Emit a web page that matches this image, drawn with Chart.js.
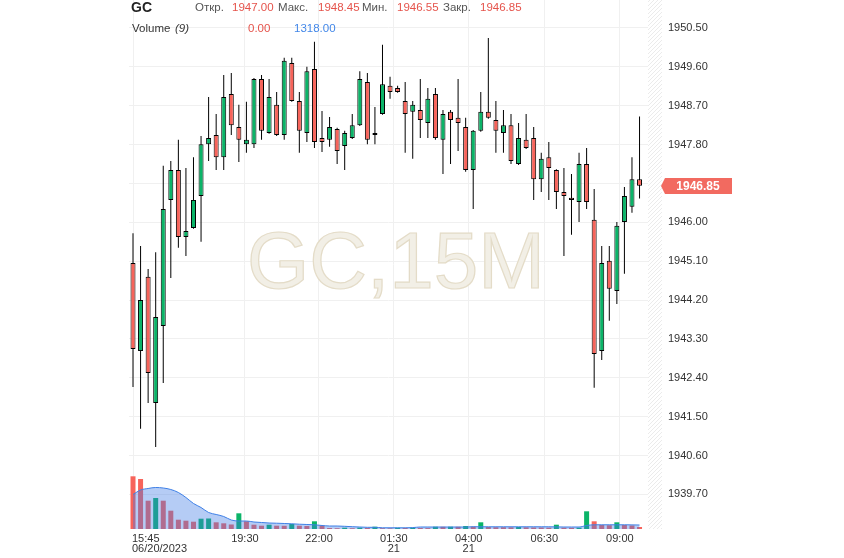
<!DOCTYPE html>
<html>
<head>
<meta charset="utf-8">
<script src="https://cdn.jsdelivr.net/npm/chart.js"></script>
<style>
html, body { margin: 0; padding: 0; background: #fff; }
canvas { display: block; }
</style>
</head>
<body>
<canvas id="gcChart" width="844" height="558"></canvas>
<script>
// GC, 15M - свечи
const opens = [
    1945.06, 1943.02, 1944.74, 1941.82, 1943.60, 1946.52, 1947.21, 1945.66, 1945.87, 1946.61,
    1947.81, 1948.02, 1947.51, 1948.97, 1948.21, 1947.81, 1947.81, 1949.32, 1948.07, 1948.72,
    1948.02, 1949.69, 1948.81, 1948.07, 1949.55, 1947.95, 1947.91, 1948.16, 1947.77, 1947.95,
    1948.25, 1949.25, 1948.02, 1948.51, 1949.16, 1949.11, 1948.81, 1948.56, 1948.60, 1948.30,
    1948.97, 1947.91, 1948.56, 1948.42, 1948.21, 1947.21, 1948.12, 1948.56, 1948.37, 1948.07,
    1948.25, 1947.35, 1947.91, 1947.95, 1947.00, 1947.51, 1947.21, 1946.70, 1946.57, 1946.47,
    1947.35, 1946.06, 1943.02, 1945.11, 1944.41, 1946.01, 1946.36, 1947.00
];
const highs = [
    1945.75, 1945.45, 1944.92, 1945.31, 1947.31, 1947.42, 1947.91, 1947.26, 1947.51, 1948.00,
    1948.90, 1948.51, 1949.41, 1949.46, 1948.72, 1948.79, 1949.34, 1949.41, 1949.32, 1949.02,
    1949.81, 1949.81, 1949.02, 1949.60, 1950.18, 1948.58, 1948.44, 1948.19, 1948.12, 1948.51,
    1949.50, 1949.46, 1948.67, 1950.11, 1949.37, 1949.16, 1949.25, 1948.81, 1949.32, 1949.11,
    1949.11, 1948.60, 1948.60, 1949.32, 1948.42, 1948.14, 1949.02, 1950.27, 1948.81, 1948.60,
    1948.51, 1948.30, 1948.51, 1948.21, 1947.61, 1947.86, 1947.23, 1947.26, 1947.12, 1947.61,
    1947.72, 1946.77, 1945.45, 1945.45, 1946.01, 1946.82, 1947.51, 1948.45
];
const lows = [
    1942.19, 1941.22, 1941.82, 1940.80, 1942.28, 1944.71, 1945.41, 1945.22, 1945.85, 1945.55,
    1947.42, 1947.21, 1947.21, 1948.02, 1947.40, 1947.61, 1947.72, 1947.91, 1948.05, 1948.00,
    1947.91, 1948.79, 1947.61, 1947.86, 1947.72, 1947.63, 1947.75, 1947.35, 1947.21, 1947.93,
    1948.23, 1947.81, 1947.81, 1948.49, 1948.86, 1949.00, 1947.61, 1947.47, 1947.95, 1947.95,
    1947.91, 1947.12, 1947.35, 1947.65, 1947.17, 1946.31, 1948.10, 1948.40, 1947.61, 1947.61,
    1947.35, 1947.33, 1947.70, 1946.52, 1946.70, 1946.52, 1946.31, 1945.22, 1945.71, 1946.01,
    1946.31, 1942.17, 1942.81, 1943.72, 1944.11, 1944.81, 1946.22, 1946.55
];
const closes = [
    1943.07, 1944.20, 1942.51, 1943.81, 1946.31, 1947.21, 1945.66, 1945.80, 1946.52, 1947.81,
    1947.95, 1947.51, 1948.90, 1948.25, 1947.91, 1947.91, 1949.32, 1948.12, 1948.90, 1948.02,
    1949.74, 1948.81, 1948.12, 1949.50, 1947.86, 1947.86, 1948.21, 1947.65, 1948.07, 1948.25,
    1949.32, 1947.91, 1948.07, 1949.20, 1949.02, 1949.02, 1948.51, 1948.72, 1948.37, 1948.86,
    1947.95, 1948.51, 1948.37, 1948.30, 1947.21, 1948.12, 1948.56, 1948.42, 1948.12, 1948.25,
    1947.42, 1947.95, 1947.72, 1947.00, 1947.47, 1947.26, 1946.70, 1946.61, 1946.52, 1947.35,
    1946.47, 1942.95, 1945.06, 1944.46, 1945.92, 1946.61, 1947.00, 1946.85
];

// Объём и его скользящая средняя (9)
const volumes = [
    17390, 16500, 9340, 10230, 9340, 6040, 3070, 2740, 2410, 3400,
    3470, 2210, 1880, 1490, 5180, 2540, 1420, 1090, 1420, 1090,
    1060, 1650, 1090, 990, 2540, 1090, 330, 260, 430, 260,
    460, 330, 760, 260, 230, 400, 330, 430, 330, 300,
    760, 730, 760, 730, 990, 760, 2210, 660, 590, 590,
    560, 660, 560, 500, 500, 430, 1420, 430, 400, 430,
    5840, 2540, 1320, 1250, 2210, 1320, 1160, 660
];
const volumeMA = [
    11380, 12870, 13370, 13700, 13530, 13040, 12050, 10400, 8420, 7100,
    5450, 4790, 4130, 2970, 2640, 2640, 2310, 2150, 1980, 1910,
    1820, 1720, 1580, 1490, 1390, 1160, 990, 990, 890, 760,
    660, 560, 560, 400, 400, 400, 400, 460, 660, 660,
    660, 660, 660, 660, 660, 760, 730, 730, 730, 730,
    730, 730, 730, 730, 730, 730, 700, 660, 660, 660,
    1160, 1390, 1390, 1390, 1390, 1390, 1360, 1318
];

// Подписи осей
const timeLabels = ['15:45', '19:30', '22:00', '01:30', '04:00', '06:30', '09:00'];
const dateLabels = ['06/20/2023', '', '', '21', '21', '', ''];
const timeTickPos = [0, 14.8, 24.6, 34.5, 44.4, 54.4, 64.4];
const priceTicks = [1939.70, 1940.60, 1941.50, 1942.40, 1943.30, 1944.20, 1945.10,
    1946.00, 1946.90, 1947.80, 1948.70, 1949.60, 1950.50];

const UP = '#0bb468';
const DOWN = '#f7645b';
const FONT = '"Liberation Sans", Arial, sans-serif';

const idx = opens.map((_, i) => i);
const bodyData = idx.map(i => ({ x: i, y: [opens[i], closes[i]] }));
const wickData = idx.map(i => ({ x: i, y: [lows[i], highs[i]] }));
const bodyColors = idx.map(i => closes[i] >= opens[i] ? UP : DOWN);
const volData = idx.map(i => ({ x: i, y: volumes[i] }));
const volColors = idx.map(i => (i > 0 && volumes[i] > volumes[i - 1]) ? UP : DOWN);
const maData = idx.map(i => ({ x: i, y: volumeMA[i] }));

// Надписи, водяной знак, ярлык цены
const overlay = {
    id: 'overlay',
    beforeDatasetsDraw(chart) {
        const ctx = chart.ctx;
        ctx.save();
        ctx.font = '80px ' + FONT;
        ctx.textAlign = 'center';
        ctx.textBaseline = 'alphabetic';
        ctx.fillStyle = '#f2efe6';
        ctx.strokeStyle = '#e4dcc8';
        ctx.lineWidth = 1.2;
        ctx.fillText('GC,15M', 396, 288);
        ctx.strokeText('GC,15M', 396, 288);
        ctx.restore();
    },
    afterDraw(chart) {
        const ctx = chart.ctx;
        const area = chart.chartArea;
        const xs = chart.scales.x;
        const ys = chart.scales.y;
        ctx.save();

        // штриховка у правого края
        ctx.beginPath();
        ctx.rect(area.right, 0, 14, area.bottom);
        ctx.clip();
        ctx.strokeStyle = '#ebebeb';
        ctx.lineWidth = 1;
        ctx.beginPath();
        for (let k = -20; k < area.bottom + 20; k += 4) {
            ctx.moveTo(area.right, k + 14);
            ctx.lineTo(area.right + 14, k);
        }
        ctx.stroke();
        ctx.restore();
        ctx.save();

        // подписи времени
        ctx.fillStyle = '#333';
        ctx.font = '11px ' + FONT;
        ctx.textBaseline = 'middle';
        timeTickPos.forEach((p, i) => {
            const px = xs.getPixelForValue(p);
            ctx.textAlign = i === 0 ? 'left' : 'center';
            const x0 = i === 0 ? px - 1 : px;
            ctx.fillText(timeLabels[i], x0, 539);
            if (dateLabels[i]) ctx.fillText(dateLabels[i], x0, 549);
        });

        // шапка
        ctx.textAlign = 'left';
        ctx.font = 'bold 14px ' + FONT;
        ctx.fillStyle = '#222';
        ctx.fillText('GC', 131, 8);
        ctx.font = '11.5px ' + FONT;
        const row = [
            ['Откр.', 195, '#555'], ['1947.00', 232, '#e5534b'],
            ['Макс.', 278, '#555'], ['1948.45', 318, '#e5534b'],
            ['Мин.', 362, '#555'], ['1946.55', 397, '#e5534b'],
            ['Закр.', 443, '#555'], ['1946.85', 480, '#e5534b']
        ];
        row.forEach(([t, x, c]) => { ctx.fillStyle = c; ctx.fillText(t, x, 8); });
        ctx.fillStyle = '#333';
        ctx.fillText('Volume', 132, 29);
        ctx.font = 'italic 11.5px ' + FONT;
        ctx.fillText('(9)', 175, 29);
        ctx.font = '11.5px ' + FONT;
        ctx.fillStyle = '#e5534b';
        ctx.fillText('0.00', 248, 29);
        ctx.fillStyle = '#4287e8';
        ctx.fillText('1318.00', 294, 29);

        // ярлык последней цены
        const last = closes[closes.length - 1];
        const yy = Math.round(ys.getPixelForValue(last));
        ctx.fillStyle = '#f26a60';
        ctx.beginPath();
        ctx.moveTo(661, yy);
        ctx.lineTo(665, yy - 8);
        ctx.lineTo(732, yy - 8);
        ctx.lineTo(732, yy + 8);
        ctx.lineTo(665, yy + 8);
        ctx.closePath();
        ctx.fill();
        ctx.fillStyle = '#fff';
        ctx.font = 'bold 12px ' + FONT;
        ctx.textAlign = 'center';
        ctx.fillText(last.toFixed(2), 698, yy + 0.5);
        ctx.restore();
    }
};

new Chart(document.getElementById('gcChart'), {
    type: 'bar',
    data: {
        datasets: [
            {
                type: 'bar', data: bodyData, yAxisID: 'y', order: 1,
                backgroundColor: bodyColors, borderColor: '#000', borderWidth: 1,
                borderSkipped: false, barThickness: 5, grouped: false, inflateAmount: 0
            },
            {
                type: 'bar', data: wickData, yAxisID: 'y', order: 2,
                backgroundColor: '#000', borderWidth: 0,
                barThickness: 1, grouped: false, inflateAmount: 0
            },
            {
                type: 'line', data: maData, yAxisID: 'yv', order: 3,
                borderColor: '#3d7fe6', borderWidth: 1, pointRadius: 0,
                tension: 0.4, cubicInterpolationMode: 'monotone',
                fill: 'origin', backgroundColor: 'rgba(60, 120, 230, 0.38)'
            },
            {
                type: 'bar', data: volData, yAxisID: 'yv', order: 4,
                backgroundColor: volColors, borderWidth: 0,
                barThickness: 5, grouped: false, inflateAmount: 0
            }
        ]
    },
    options: {
        responsive: false,
        animation: false,
        devicePixelRatio: 1,
        layout: { padding: { left: 129, right: 0, top: 0, bottom: 0 }, autoPadding: false },
        plugins: { legend: { display: false }, tooltip: { enabled: false } },
        scales: {
            x: {
                type: 'linear',
                offset: false,
                min: -0.53,
                max: 68.12,
                border: { display: false },
                grid: { color: '#f0f0f0', drawTicks: false, offset: false },
                ticks: { display: false },
                afterBuildTicks: s => { s.ticks = timeTickPos.map(v => ({ value: v })); },
                afterFit: s => { s.height = 29; }
            },
            y: {
                position: 'right',
                min: 1938.90,
                max: 1951.148,
                border: { display: false },
                grid: { color: '#f0f0f0', drawTicks: false },
                ticks: {
                    color: '#333',
                    padding: 20,
                    font: { family: 'Liberation Sans', size: 11 },
                    callback: v => v.toFixed(2)
                },
                afterBuildTicks: s => { s.ticks = priceTicks.map(v => ({ value: v })); },
                afterFit: s => { s.width = 196; s.paddingTop = 0; s.paddingBottom = 0; }
            },
            yv: {
                display: false,
                min: 0,
                max: 174570
            }
        }
    },
    plugins: [overlay]
});
</script>
</body>
</html>
